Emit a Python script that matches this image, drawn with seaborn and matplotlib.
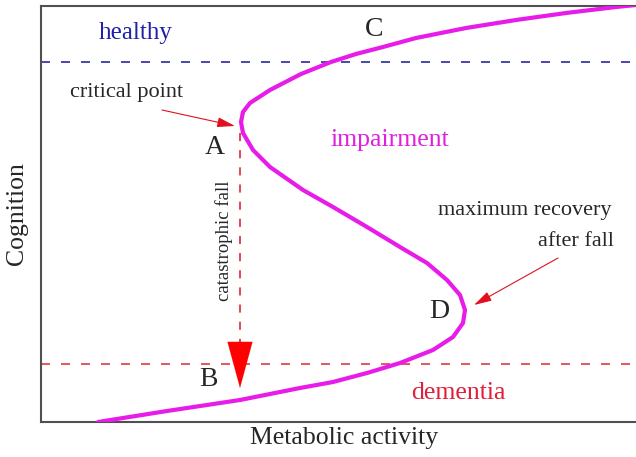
import matplotlib
matplotlib.use('Agg')
import matplotlib.pyplot as plt
import seaborn as sns
import pandas as pd

# S-shaped cognition vs metabolic activity curve
metabolic = [57, 126, 199, 259, 292, 326, 359, 392, 412, 422, 424, 419, 406, 386,
             359, 326, 292, 262, 229, 212, 202, 200, 202, 209, 229, 260, 290, 315,
             342, 375, 425, 475, 525, 575, 595]
cognition = [0, 11, 22, 34, 40, 49, 59, 72, 85, 99, 112, 127, 142, 159,
             175, 195, 215, 232, 255, 272, 289, 300, 310, 319, 332, 348, 360, 368,
             375, 384, 394, 402, 409, 415, 417]

healthy_level = 360
dementia_level = 58

# catastrophic fall A -> B
fall_x = 199
fall_top = 289
fall_head = 80
fall_tip = 34

curve = pd.DataFrame({'metabolic': metabolic, 'cognition': cognition})

sns.set_style('white')
plt.rcParams['font.family'] = ['Liberation Serif', 'DejaVu Serif']

fig = plt.figure(figsize=(6.36, 4.57), dpi=100)
ax = fig.add_axes([41 / 636, 35 / 457, 595 / 636, 416 / 457])

sns.lineplot(data=curve, x='metabolic', y='cognition', sort=False, estimator=None,
             color='#e81ce8', lw=3.0, ax=ax, zorder=3,
             solid_joinstyle='round', solid_capstyle='round')

ax.axhline(healthy_level, color='#2a2aa0', lw=1.2, dashes=(5.4, 6.6), zorder=2)
ax.axhline(dementia_level, color='#e03848', lw=1.2, dashes=(5.4, 6.6), zorder=2)

# dashed shaft + big red head
ax.plot([fall_x, fall_x], [fall_top, fall_head], color='#e03848', lw=1.3,
        dashes=(4.5, 5.0))
ax.annotate('', xy=(fall_x, fall_tip), xytext=(fall_x, fall_head + 2),
            arrowprops=dict(arrowstyle='-|>,head_length=33,head_width=9',
                            mutation_scale=1, color='#ff0000', lw=0.1,
                            shrinkA=0, shrinkB=0))

# thin pointer arrows
ax.annotate('', xy=(194, 296), xytext=(121, 312),
            arrowprops=dict(arrowstyle='-|>,head_length=0.9,head_width=0.25',
                            mutation_scale=12, color='#e01020', lw=0.8,
                            shrinkA=0, shrinkB=0))
ax.annotate('', xy=(433, 117), xytext=(517, 164),
            arrowprops=dict(arrowstyle='-|>,head_length=0.9,head_width=0.25',
                            mutation_scale=12, color='#e01020', lw=0.8,
                            shrinkA=0, shrinkB=0))

ax.text(95, 389, 'healthy', color='#2020a8', fontsize=18, ha='center', va='center')
ax.text(417.5, 29, 'dementia', color='#e0203a', fontsize=18.5, ha='center', va='center')
ax.text(349, 282, 'impairment', color='#e020e0', fontsize=18.5, ha='center', va='center')
ax.text(85.5, 330, 'critical point', fontsize=16, ha='center', va='center')
ax.text(483.5, 212, 'maximum recovery', fontsize=16, ha='center', va='center')
ax.text(534.5, 180, 'after fall', fontsize=16, ha='center', va='center')
ax.text(183, 181, 'catastrophic fall', fontsize=13.5, rotation=90,
        ha='center', va='center')

for lab, x, y in [('A', 174, 274), ('B', 167, 42), ('C', 333, 392), ('D', 398, 110)]:
    ax.text(x, y, lab, fontsize=20, ha='center', va='center')

ax.set_xlim(0, 595)
ax.set_ylim(0, 416)
ax.set_xticks([])
ax.set_yticks([])
ax.set_xlabel('Metabolic activity', fontsize=18.5)
ax.set_ylabel('Cognition', fontsize=18.5)
ax.xaxis.set_label_coords(303 / 595, -0.012)
ax.yaxis.set_label_coords(-0.022, 0.5)

for side in ['left', 'bottom', 'top']:
    ax.spines[side].set_color('#505050')
    ax.spines[side].set_linewidth(1.5)
ax.spines['right'].set_visible(False)

fig.savefig('out.png', dpi=100)
